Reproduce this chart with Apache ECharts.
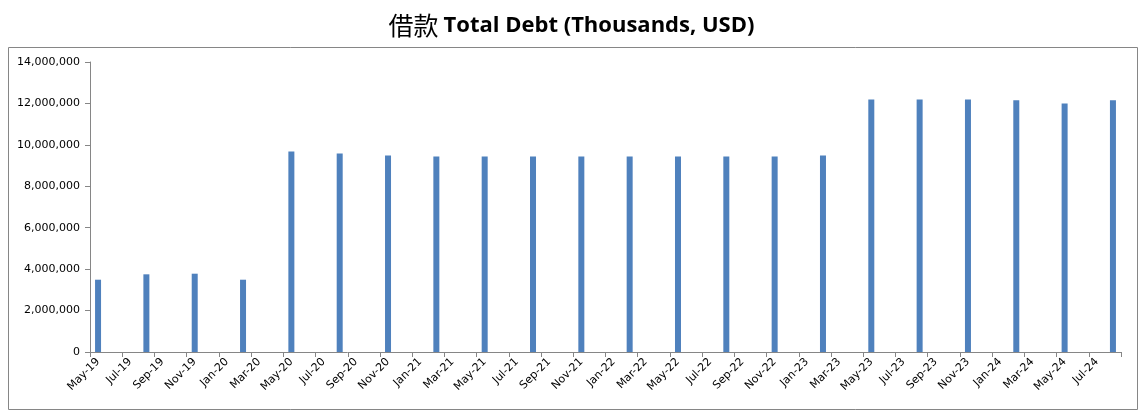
<!DOCTYPE html>
<html>
<head>
<meta charset="utf-8">
<script src="https://cdn.jsdelivr.net/npm/echarts@6/dist/echarts.min.js"></script>
<style>
html,body{margin:0;padding:0;background:#fff;}
#chart{width:1143px;height:419px;}
</style>
</head>
<body>
<div id="chart"></div>
<script>
// Monthly category slots (date axis, base unit = month)
var months = [
  'May-19','Jun-19','Jul-19','Aug-19','Sep-19','Oct-19','Nov-19','Dec-19',
  'Jan-20','Feb-20','Mar-20','Apr-20','May-20','Jun-20','Jul-20','Aug-20','Sep-20','Oct-20','Nov-20','Dec-20',
  'Jan-21','Feb-21','Mar-21','Apr-21','May-21','Jun-21','Jul-21','Aug-21','Sep-21','Oct-21','Nov-21','Dec-21',
  'Jan-22','Feb-22','Mar-22','Apr-22','May-22','Jun-22','Jul-22','Aug-22','Sep-22','Oct-22','Nov-22','Dec-22',
  'Jan-23','Feb-23','Mar-23','Apr-23','May-23','Jun-23','Jul-23','Aug-23','Sep-23','Oct-23','Nov-23','Dec-23',
  'Jan-24','Feb-24','Mar-24','Apr-24','May-24','Jun-24','Jul-24','Aug-24'
];
// Quarterly report dates
var reportDates = [
  'May-19','Aug-19','Nov-19','Feb-20','May-20','Aug-20','Nov-20','Feb-21','May-21','Aug-21','Nov-21',
  'Feb-22','May-22','Aug-22','Nov-22','Feb-23','May-23','Aug-23','Nov-23','Feb-24','May-24','Aug-24'
];
// Total debt (thousands USD)
var totalDebt = [
  3490000, 3750000, 3780000, 3490000, 9680000, 9580000, 9490000, 9440000, 9440000, 9440000, 9440000,
  9440000, 9440000, 9440000, 9440000, 9490000, 12190000, 12190000, 12190000, 12150000, 12000000, 12150000
];
var yTicks = {min: 0, max: 14000000, interval: 2000000};

var chart = echarts.init(document.getElementById('chart'), null, {renderer: 'canvas'});
var seriesData = reportDates.map(function (d, i) { return [d, totalDebt[i]]; });

chart.setOption({
  animation: false,
  backgroundColor: '#ffffff',
  title: {
    text: '{cjk|借款} {en|Total Debt (Thousands, USD)}',
    left: 'center',
    top: 8,
    textStyle: {
      rich: {
        cjk: {fontFamily: 'Noto Sans CJK SC', fontSize: 25, fontWeight: 'normal', color: '#000'},
        en: {fontFamily: 'Open Sans', fontSize: 22, fontWeight: 'bold', color: '#000'}
      }
    }
  },
  graphic: [{
    type: 'rect',
    shape: {x: 8.5, y: 47.5, width: 1129, height: 362},
    style: {fill: 'none', stroke: '#868686', lineWidth: 1},
    silent: true,
    z: -1
  }],
  grid: {left: 90, right: 22, top: 62, bottom: 67, containLabel: false},
  xAxis: {
    type: 'category',
    data: months,
    boundaryGap: true,
    axisLine: {lineStyle: {color: '#868686'}},
    axisTick: {show: true, interval: 1, alignWithLabel: false, length: 5, lineStyle: {color: '#868686'}},
    axisLabel: {
      interval: 1,
      rotate: 45,
      margin: 8,
      fontFamily: 'DejaVu Sans',
      fontSize: 11,
      color: '#000'
    },
    splitLine: {show: false}
  },
  yAxis: {
    type: 'value',
    min: yTicks.min,
    max: yTicks.max,
    interval: yTicks.interval,
    axisLine: {show: true, lineStyle: {color: '#868686'}},
    axisTick: {show: true, length: 5, lineStyle: {color: '#868686'}},
    axisLabel: {
      fontFamily: 'DejaVu Sans',
      fontSize: 11,
      color: '#000',
      margin: 10,
      formatter: function (v) { return v.toLocaleString('en-US'); }
    },
    splitLine: {show: false}
  },
  series: [{
    type: 'bar',
    data: seriesData,
    barWidth: 6,
    itemStyle: {color: '#4F81BD'}
  }]
});
</script>
</body>
</html>
